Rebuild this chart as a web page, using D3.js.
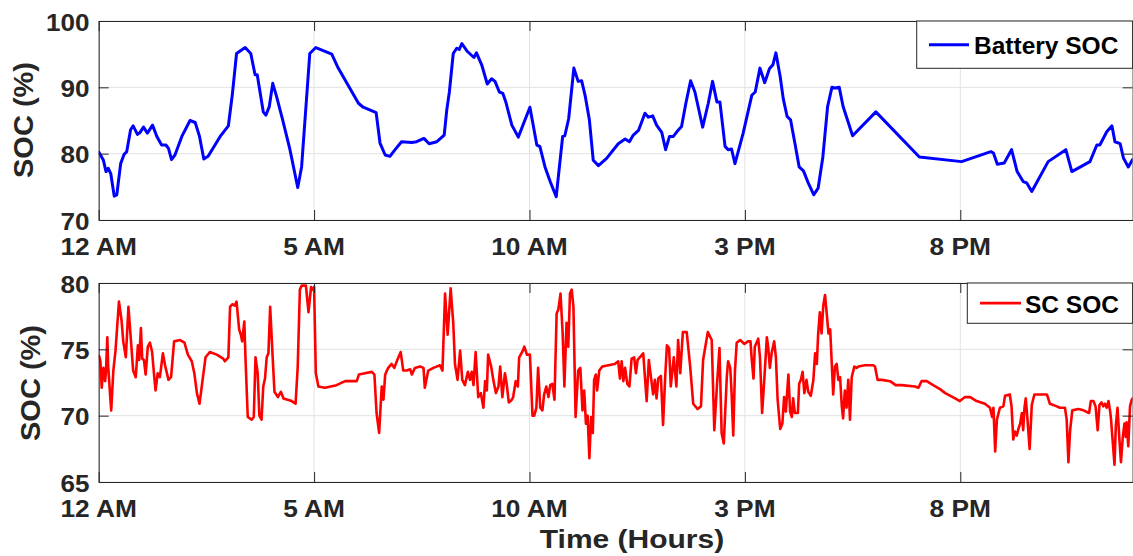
<!DOCTYPE html>
<html>
<head>
<meta charset="utf-8">
<script src="https://cdn.jsdelivr.net/npm/d3@7"></script>
<style>
  html, body { margin: 0; padding: 0; background: #fff; }
  svg { display: block; }
  text { font-family: "Liberation Sans", Arial, Helvetica, sans-serif; font-weight: bold; fill: #262626; }
</style>
</head>
<body>
<svg id="chart" width="1133" height="556"></svg>
<script>
// ---- time axis ----
const xTickHours = [0, 5, 10, 15, 20];
const xTickLabels = ["12 AM", "5 AM", "10 AM", "3 PM", "8 PM"];

// ---- battery state of charge (hours, %) ----
const batteryHours = [
  0.01,0.11,0.17,0.22,0.28,0.36,0.42,0.51,0.59,0.65,
  0.74,0.80,0.90,0.96,1.04,1.13,1.25,1.35,1.46,1.56,
  1.62,1.69,1.77,1.93,2.12,2.24,2.34,2.44,2.54,2.82,
  3.01,3.10,3.20,3.40,3.53,3.63,3.68,3.82,3.88,3.96,
  4.04,4.13,4.27,4.44,4.62,4.71,4.90,5.04,5.41,5.56,
  6.03,6.14,6.44,6.53,6.65,6.76,6.88,7.03,7.27,7.38,
  7.55,7.67,7.85,8.02,8.08,8.14,8.23,8.31,8.37,8.43,
  8.56,8.71,8.77,8.89,9.02,9.12,9.20,9.30,9.38,9.45,
  9.59,9.74,10.01,10.17,10.24,10.36,10.48,10.62,10.77,10.82,
  10.91,11.03,11.13,11.21,11.29,11.39,11.48,11.60,11.79,12.06,
  12.22,12.32,12.41,12.53,12.68,12.76,12.86,12.95,13.07,13.16,
  13.25,13.34,13.42,13.53,13.63,13.74,13.84,14.02,14.15,14.25,
  14.35,14.42,14.54,14.61,14.69,14.77,14.96,15.16,15.24,15.35,
  15.46,15.57,15.65,15.72,15.82,15.89,15.98,16.06,16.16,16.26,
  16.36,16.47,16.60,16.70,16.81,16.92,17.02,17.09,17.19,17.28,
  17.38,17.50,18.04,19.05,20.03,20.71,20.77,20.86,21.02,21.19,
  21.32,21.46,21.54,21.66,22.04,22.45,22.59,23.01,23.17,23.24,
  23.40,23.52,23.59,23.71,23.79,23.90,24.00
];
const batterySOC = [
  80.2,79.0,77.3,77.8,77.0,73.6,73.8,78.5,79.9,80.3,
  83.6,84.2,82.9,83.2,84.0,83.1,84.3,82.6,81.3,81.3,
  80.8,79.1,79.8,82.6,85.0,84.7,82.6,79.2,79.6,82.6,
  84.2,88.8,95.1,96.0,95.1,91.9,91.9,86.3,85.8,87.1,
  90.6,88.6,85.1,80.6,74.9,78.0,95.1,96.0,95.0,92.9,
  87.6,87.0,86.2,81.6,79.8,79.6,80.6,81.8,81.7,81.8,
  82.3,81.5,81.8,82.8,86.6,89.3,95.1,95.9,95.7,96.6,
  95.4,94.5,95.2,93.4,90.5,91.3,90.9,89.3,89.1,87.8,
  84.3,82.5,87.0,81.3,81.1,78.0,75.8,73.5,82.6,82.7,
  85.3,92.9,90.9,91.0,88.8,85.1,79.0,78.2,79.3,81.5,
  82.2,81.8,82.8,83.5,86.1,85.5,85.7,84.3,83.2,80.6,
  82.6,82.6,83.3,84.1,87.6,91.0,89.3,84.0,87.6,90.9,
  87.8,87.8,81.1,80.6,80.7,78.5,83.1,88.8,89.3,92.9,
  90.7,92.8,93.4,95.2,91.6,88.3,85.6,85.1,81.6,78.0,
  77.4,75.6,73.8,74.8,79.5,87.1,90.0,89.9,90.0,87.1,
  85.1,82.7,86.3,79.5,78.8,80.3,80.1,78.4,78.6,80.6,
  77.3,75.8,75.6,74.3,78.8,80.6,77.3,78.8,81.3,81.3,
  83.3,84.2,81.8,81.5,79.3,78.0,79.1
];

// ---- supercapacitor state of charge (hours, %) ----
const scHours = [
  0.01,0.04,0.07,0.11,0.15,0.17,0.20,0.22,0.29,0.34,
  0.39,0.47,0.53,0.57,0.63,0.69,0.75,0.80,0.86,0.91,
  0.94,0.98,1.01,1.05,1.09,1.14,1.19,1.24,1.29,1.32,
  1.37,1.42,1.49,1.54,1.62,1.68,1.75,1.89,1.99,2.07,
  2.16,2.22,2.28,2.34,2.40,2.48,2.58,2.74,2.89,2.93,
  3.01,3.05,3.10,3.16,3.20,3.26,3.30,3.33,3.38,3.41,
  3.46,3.55,3.60,3.64,3.69,3.73,3.78,3.82,3.86,3.90,
  3.94,3.98,4.04,4.08,4.16,4.21,4.23,4.29,4.48,4.57,
  4.62,4.67,4.71,4.81,4.87,4.93,4.96,5.00,5.04,5.10,
  5.25,5.52,5.72,5.99,6.04,6.18,6.34,6.40,6.45,6.51,
  6.57,6.61,6.65,6.72,6.80,6.86,6.92,7.01,7.07,7.15,
  7.23,7.27,7.34,7.46,7.54,7.57,7.65,7.77,7.92,7.98,
  8.04,8.10,8.17,8.23,8.27,8.33,8.39,8.44,8.50,8.57,
  8.62,8.66,8.70,8.75,8.81,8.87,8.93,8.97,9.01,9.04,
  9.11,9.16,9.22,9.28,9.32,9.37,9.43,9.47,9.52,9.59,
  9.62,9.68,9.73,9.76,9.83,9.88,9.94,10.01,10.07,10.11,
  10.16,10.20,10.25,10.30,10.34,10.39,10.44,10.48,10.53,10.58,
  10.63,10.67,10.72,10.77,10.81,10.86,10.90,10.94,10.98,11.02,
  11.07,11.13,11.18,11.23,11.27,11.31,11.35,11.39,11.43,11.47,
  11.50,11.54,11.57,11.62,11.69,11.98,12.06,12.10,12.14,12.18,
  12.22,12.27,12.32,12.37,12.43,12.47,12.51,12.64,12.68,12.72,
  12.77,12.82,12.87,12.91,12.95,12.99,13.05,13.10,13.15,13.19,
  13.24,13.28,13.35,13.41,13.45,13.50,13.56,13.65,13.73,13.80,
  13.90,13.98,14.03,14.14,14.23,14.29,14.35,14.41,14.46,14.51,
  14.58,14.61,14.66,14.69,14.73,14.77,14.81,14.89,14.99,15.07,
  15.13,15.16,15.20,15.23,15.31,15.35,15.40,15.45,15.51,15.54,
  15.58,15.62,15.68,15.72,15.76,15.82,15.87,15.91,15.95,16.01,
  16.05,16.09,16.12,16.16,16.23,16.26,16.30,16.34,16.38,16.43,
  16.47,16.53,16.59,16.63,16.67,16.70,16.74,16.78,16.82,16.86,
  16.90,16.94,16.98,17.01,17.05,17.09,17.13,17.17,17.21,17.25,
  17.28,17.32,17.36,17.40,17.44,17.48,17.54,17.60,17.63,17.79,
  17.98,18.02,18.08,18.18,18.37,18.50,18.64,18.95,19.03,19.10,
  19.22,19.37,19.53,19.65,19.88,19.99,20.11,20.23,20.38,20.57,
  20.69,20.74,20.77,20.81,20.85,20.92,21.00,21.04,21.15,21.19,
  21.23,21.27,21.31,21.35,21.39,21.43,21.46,21.49,21.52,21.56,
  21.61,21.66,21.72,21.81,22.01,22.08,22.24,22.31,22.43,22.47,
  22.51,22.55,22.60,22.74,22.86,22.99,23.03,23.09,23.14,23.19,
  23.23,23.28,23.32,23.36,23.40,23.44,23.48,23.50,23.53,23.58,
  23.61,23.65,23.69,23.73,23.77,23.81,23.84,23.86,23.90,23.94,
  23.98,24.00
];
const scSOC = [
  74.5,74.1,72.1,73.6,72.6,73.4,75.9,73.7,70.4,73.4,
  74.9,78.6,77.2,75.6,74.4,78.2,75.6,73.4,72.9,75.3,
  74.2,76.6,74.3,74.2,73.1,75.2,75.5,74.8,72.9,71.9,
  73.2,72.9,74.7,73.8,72.7,72.9,75.6,75.7,75.5,74.6,
  74.1,73.2,71.7,70.9,72.4,74.4,74.8,74.6,74.3,74.1,
  74.4,78.2,78.4,78.3,78.6,76.5,76.1,75.6,77.1,74.1,
  69.9,69.7,69.9,74.4,73.2,70.0,69.7,72.2,72.8,74.4,
  74.7,78.2,74.3,71.8,71.4,71.7,71.8,71.3,71.1,70.9,
  73.7,79.5,79.8,79.8,77.8,79.7,79.5,79.7,73.2,72.2,
  72.1,72.3,72.6,72.6,73.1,73.2,73.3,73.1,70.2,68.7,
  72.2,71.2,73.1,73.6,73.9,73.6,74.1,74.8,73.4,73.4,
  73.5,73.1,73.6,73.7,73.6,72.1,73.4,73.6,73.8,73.4,
  79.2,76.1,79.6,77.0,73.9,72.7,74.9,72.7,72.3,73.3,
  72.7,73.3,72.3,74.8,71.4,71.7,70.6,72.6,71.9,74.6,
  73.7,72.7,71.7,72.2,73.7,71.4,73.2,72.4,71.0,71.2,
  71.4,72.6,72.2,74.4,74.8,75.2,74.6,74.6,70.0,70.0,
  70.6,73.6,70.6,70.4,71.6,72.2,71.4,72.3,72.4,71.2,
  77.7,78.0,79.2,76.2,72.2,77.0,75.2,79.2,79.5,78.2,
  69.9,73.4,73.6,70.4,71.9,69.4,70.0,66.8,69.9,68.7,
  72.7,73.1,71.9,73.4,73.7,73.9,74.1,72.8,74.1,72.6,
  73.6,72.4,72.2,74.3,74.4,73.2,74.2,74.7,72.9,71.1,
  74.2,72.9,71.6,72.7,71.3,72.8,73.0,69.3,72.9,75.3,
  75.1,72.2,74.4,72.2,75.7,73.2,76.3,76.3,73.7,70.9,
  70.5,70.7,74.2,76.3,75.7,68.9,72.2,75.1,68.7,67.9,
  72.9,74.1,73.6,71.8,68.5,73.4,75.5,75.7,75.4,75.6,
  75.6,74.2,72.8,75.2,75.8,74.4,70.2,72.7,75.9,75.2,
  73.6,74.7,75.6,74.4,71.2,69.0,69.4,71.4,70.3,73.1,
  70.3,69.9,71.3,70.2,70.2,72.4,72.7,73.3,71.7,72.7,
  71.8,71.5,72.7,74.7,73.9,76.1,77.8,76.2,78.3,79.1,
  77.7,76.2,76.5,74.4,71.6,73.7,73.9,72.7,72.9,70.7,
  69.8,71.9,70.6,72.7,69.7,72.9,73.7,73.6,73.7,73.8,
  73.8,73.7,72.7,72.7,72.6,72.3,72.3,72.2,72.1,72.6,
  72.6,72.3,72.0,71.7,71.3,71.1,71.4,71.4,71.1,70.9,
  70.6,69.9,70.6,67.3,69.7,70.6,70.7,71.5,71.6,70.7,
  68.2,68.8,68.5,69.0,69.4,70.2,68.9,70.6,71.3,69.7,
  67.5,70.8,71.6,71.6,71.6,70.9,70.7,70.6,70.6,69.7,
  66.5,68.9,70.4,70.5,70.4,70.2,71.1,71.1,70.7,68.9,
  70.8,71.0,70.7,70.9,70.6,71.1,70.3,69.7,68.4,66.3,
  69.2,70.6,68.4,66.5,68.3,69.4,68.4,69.5,67.7,70.7,
  71.2,71.3
];

// ---- y ticks per panel ----
const batteryTicks = [70, 80, 90, 100];
const scTicks = [65, 70, 75, 80];

const AXIS = "#262626";
const GRID = "#e2e2e2";
const svg = d3.select("#chart");

const x = d3.scaleLinear().domain([0, 24]).range([98.7, 1132.6]);
const [left, right] = x.range();

const panels = [
  {
    id: "bat", top: 21, bottom: 220, domain: [70, 100], ticks: batteryTicks,
    hours: batteryHours, values: batterySOC, color: "#0000ff", lw: 3,
    name: "Battery SOC", legendX: 916.7, legendBottom: 68.3,
    sample: [929, 969], labelX: 974, labelBase: 54,
    yLabelPos: [33, 120]
  },
  {
    id: "sc", top: 283, bottom: 482, domain: [65, 80], ticks: scTicks,
    hours: scHours, values: scSOC, color: "#ff0000", lw: 2.6,
    name: "SC SOC", legendX: 967.3, legendBottom: 323.3,
    sample: [980, 1021], labelX: 1025, labelBase: 313.3,
    yLabelPos: [40, 383]
  }
];

panels.forEach(p => {
  const y = d3.scaleLinear().domain(p.domain).range([p.bottom, p.top]);
  const g = svg.append("g");

  // grid
  g.append("g").selectAll("line").data(p.ticks).join("line")
    .attr("x1", left).attr("x2", right)
    .attr("y1", d => y(d)).attr("y2", d => y(d))
    .attr("stroke", GRID).attr("stroke-width", 1);
  g.append("g").selectAll("line").data(xTickHours).join("line")
    .attr("x1", d => x(d)).attr("x2", d => x(d))
    .attr("y1", p.top).attr("y2", p.bottom)
    .attr("stroke", GRID).attr("stroke-width", 1);

  // series
  g.append("clipPath").attr("id", "clip-" + p.id)
    .append("rect").attr("x", left).attr("y", p.top)
    .attr("width", right - left).attr("height", p.bottom - p.top);
  const line = d3.line().x(d => x(d[0])).y(d => y(d[1]));
  g.append("path")
    .datum(d3.zip(p.hours, p.values))
    .attr("clip-path", "url(#clip-" + p.id + ")")
    .attr("d", line)
    .attr("fill", "none")
    .attr("stroke", p.color)
    .attr("stroke-width", p.lw)
    .attr("stroke-linejoin", "round")
    .attr("stroke-linecap", "round");

  // axes with inward ticks
  const styleAxis = sel => {
    sel.selectAll("path,line").attr("stroke", AXIS).attr("stroke-width", 1);
    sel.selectAll("text").remove();
  };
  g.append("g").attr("transform", `translate(0,${p.bottom})`)
    .call(d3.axisBottom(x).tickValues(xTickHours).tickSize(-10).tickSizeOuter(0))
    .call(styleAxis);
  g.append("g").attr("transform", `translate(0,${p.top})`)
    .call(d3.axisTop(x).tickValues(xTickHours).tickSize(-10).tickSizeOuter(0))
    .call(styleAxis);
  g.append("g").attr("transform", `translate(${left},0)`)
    .call(d3.axisLeft(y).tickValues(p.ticks).tickSize(-10).tickSizeOuter(0))
    .call(styleAxis);
  g.append("g").attr("transform", `translate(${right},0)`)
    .call(d3.axisRight(y).tickValues(p.ticks).tickSize(-10).tickSizeOuter(0))
    .call(styleAxis);

  // tick labels
  g.append("g").selectAll("text").data(p.ticks).join("text")
    .attr("transform", d => `translate(${left - 9.2},${y(d) + 9.5}) scale(1.11,1)`)
    .attr("text-anchor", "end")
    .style("font-size", "23.5px")
    .text(d => d);
  g.append("g").selectAll("text").data(xTickHours).join("text")
    .attr("transform", d => `translate(${x(d)},${p.bottom + 35}) scale(1.12,1)`)
    .attr("text-anchor", "middle")
    .style("font-size", "23.5px")
    .text((d, i) => xTickLabels[i]);

  // y label
  g.append("text")
    .attr("transform", `translate(${p.yLabelPos[0]},${p.yLabelPos[1]}) rotate(-90) scale(1.16,1.1)`)
    .attr("text-anchor", "middle")
    .style("font-size", "25px")
    .text("SOC (%)");

  // legend
  const lg = g.append("g");
  lg.append("rect")
    .attr("x", p.legendX).attr("y", p.top)
    .attr("width", right - p.legendX).attr("height", p.legendBottom - p.top)
    .attr("fill", "#fff").attr("stroke", AXIS).attr("stroke-width", 1);
  const ly = (p.top + p.legendBottom) / 2;
  lg.append("line")
    .attr("x1", p.sample[0]).attr("x2", p.sample[1])
    .attr("y1", ly).attr("y2", ly)
    .attr("stroke", p.color).attr("stroke-width", p.lw);
  lg.append("text")
    .attr("x", p.labelX).attr("y", p.labelBase)
    .style("font-size", "24.5px")
    .style("fill", "#000")
    .text(p.name);
});

// shared x label
svg.append("text")
  .attr("transform", "translate(632,548) scale(1.2,1)")
  .attr("text-anchor", "middle")
  .style("font-size", "25px")
  .text("Time (Hours)");
</script>
</body>
</html>
